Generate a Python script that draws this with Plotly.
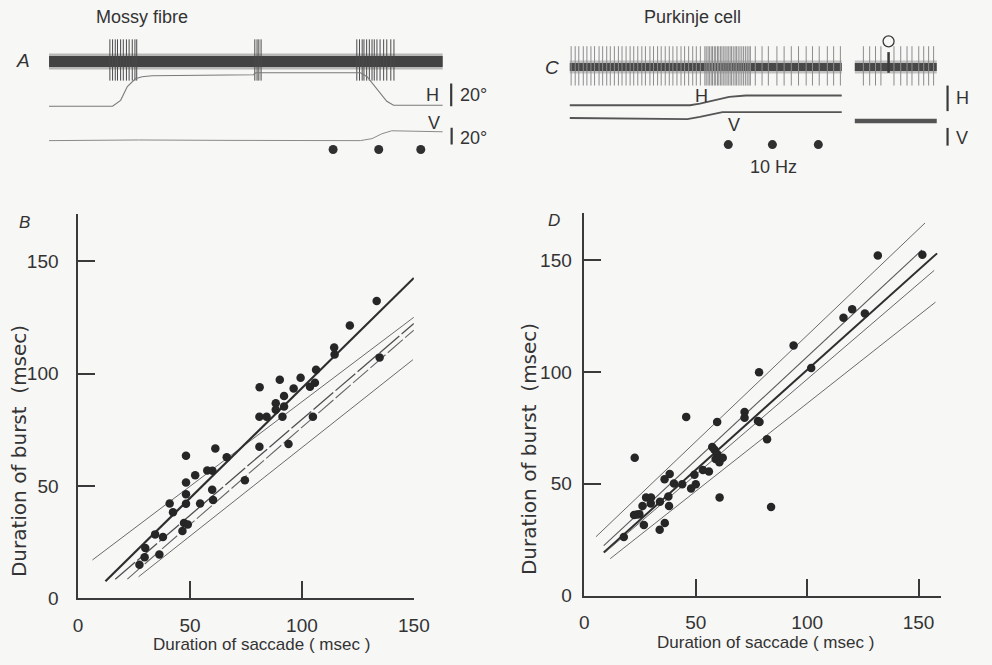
import plotly.graph_objects as go

W, H = 992, 665
FONT = "Liberation Sans"
INK = "#333333"
PAPER_BG = "#f7f7f6"

# ---------------- Panel B: mossy fibre, burst duration vs saccade duration (msec)
B_SACCADE = [27.4, 29.7, 30.0, 34.4, 36.3, 37.9, 40.9, 42.4, 46.6, 48.2, 48.2, 48.2,
             48.2, 47.3, 49.0, 52.3, 54.5, 57.7, 60.0, 59.9, 60.3, 61.3, 66.4, 74.5,
             81.0, 81.0, 81.1, 84.2, 88.3, 88.3, 90.1, 91.3, 92.0, 92.0, 94.0, 96.3,
             99.4, 103.6, 105.8, 104.9, 106.3, 114.4, 114.6, 121.4, 133.4, 134.7]
B_BURST = [14.9, 18.2, 22.3, 28.4, 19.4, 27.2, 42.1, 38.3, 29.9, 63.4, 51.5, 46.3,
           42.0, 33.5, 32.8, 54.7, 42.1, 56.8, 56.7, 48.3, 43.7, 66.6, 62.7, 52.5,
           80.8, 67.4, 93.9, 80.8, 86.8, 83.9, 97.3, 80.8, 90.0, 85.3, 68.6, 93.4,
           98.2, 94.1, 95.9, 80.8, 101.7, 111.6, 108.5, 121.4, 132.3, 107.2]
# fitted / limit lines (start, end)
B_LINE_X = [[6.4, 150.0], [12.2, 150.0], [16.6, 150.0], [22.0, 150.0], [27.0, 149.6]]
B_LINE_Y = [[17.0, 125.1], [7.5, 142.6], [8.4, 122.3], [8.5, 119.4], [9.5, 106.2]]

# ---------------- Panel D: Purkinje cell, burst duration vs saccade duration (msec)
D_SACCADE = [17.7, 22.6, 22.3, 23.6, 24.7, 26.7, 26.1, 27.7, 29.9, 29.8, 33.8, 33.9,
             36.0, 36.1, 37.7, 38.0, 38.3, 40.2, 43.9, 45.7, 47.9, 49.4, 50.0, 53.2,
             55.9, 57.4, 58.4, 58.9, 59.6, 60.4, 60.6, 62.1, 59.6, 60.7, 71.9, 71.9,
             77.9, 78.6, 78.4, 82.0, 83.8, 93.9, 101.8, 116.3, 120.2, 125.9, 131.7, 151.7]
D_BURST = [26.2, 61.6, 36.0, 36.3, 36.4, 31.6, 40.0, 43.8, 43.8, 41.2, 29.4, 42.0,
           52.0, 32.5, 44.3, 40.1, 54.4, 50.1, 49.8, 79.9, 47.9, 54.0, 49.8, 56.1,
           55.5, 66.4, 65.2, 61.1, 63.3, 60.8, 59.6, 61.6, 77.6, 43.8, 82.1, 79.5,
           78.1, 77.6, 99.9, 69.9, 39.6, 111.8, 101.8, 124.2, 128.0, 126.1, 152.0, 152.4]
D_LINE_X = [[5.2, 152.9], [8.7, 151.5], [8.7, 158.3], [9.5, 157.0], [11.6, 157.6]]
D_LINE_Y = [[26.3, 166.6], [22.3, 154.5], [19.3, 153.0], [19.5, 145.4], [16.5, 131.2]]

TICKS = [0, 50, 100, 150]

# ---------------- Panel A: mossy fibre record (time in ms)
A_DURATION = 880
A_SPIKES = [136, 142, 148, 153, 160, 166, 173, 179, 186, 192, 196,
            460, 465, 469, 474,
            688, 694, 700, 704, 710, 716, 722, 727, 733, 740, 748, 755, 764, 771]
A_H_T = [0, 142, 160, 175, 193, 208, 230, 457, 462, 696, 711, 733, 755, 770, 880]
A_H_DEG = [0, 0, 5.2, 17.4, 24.3, 26.1, 27.0, 27.8, 29.6, 29.6, 26.1, 15.7, 4.3, 0.9, 0.9]
A_V_T = [0, 120, 200, 400, 696, 722, 744, 766, 880]
A_V_DEG = [0, 0.4, 0.8, 0.3, 0, 2.4, 8.2, 11.8, 10.6]
A_MARKS = [635, 737, 831]          # 10 Hz time marks
A_SCALE_DEG = 20

# ---------------- Panel C: Purkinje cell record (time in ms)
C_DURATION = 604
C_SIMPLE = [3, 12, 20, 30, 38, 47, 55, 65, 73, 82, 90, 99, 108, 116, 125, 134, 142,
            151, 160, 168, 178, 186, 195, 203, 212, 221, 229, 238, 247, 255, 264,
            273, 281, 290,
            300, 303, 307, 310, 314, 317, 321, 324, 328, 331, 335, 338, 342, 345,
            349, 352, 356, 359, 363, 367, 370, 374, 378, 382, 386, 390, 394, 398,
            401, 412, 427, 441, 460, 476, 492, 508, 525, 539, 554, 572, 586, 601]
C_H_T = [0, 267, 289, 311, 333, 354, 391, 604]
C_H_DEG = [0, 0, 0.6, 1.5, 2.5, 3.3, 3.8, 3.8]
C_V_T = [0, 261, 289, 315, 339, 604]
C_V_DEG = [0, -0.6, 0.6, 2.2, 3.3, 3.3]
C_MARKS = [352, 450, 552]
# inset record with a complex spike
C2_START, C2_END = 633, 815
C2_SIMPLE = [652, 666, 679, 691, 720, 735, 749, 760, 775, 786, 797, 808]
C2_COMPLEX = 708
C2_EYE_DEG = -1.7
C_SCALE_DEG = 10


def px_x(p):
    return p / W


def px_y(p):
    return 1 - p / H


def spikes(times, lo, hi):
    xs, ys = [], []
    for t in times:
        xs += [t, t, None]
        ys += [lo, hi, None]
    return xs, ys


fig = go.Figure()

# ---------- scatter panels ----------
line_styles = [
    dict(color="#6a6a6a", width=1.0),
    dict(color="#2e2e2e", width=2.2),
    dict(color="#505050", width=1.3, dash="26px,3px"),
    dict(color="#666666", width=1.1, dash="20px,3px"),
    dict(color="#6a6a6a", width=1.0),
]
for lx, ly, st in zip(B_LINE_X, B_LINE_Y, line_styles):
    fig.add_trace(go.Scatter(x=lx, y=ly, mode="lines", line=st, xaxis="x", yaxis="y",
                             hoverinfo="skip"))
fig.add_trace(go.Scatter(x=B_SACCADE, y=B_BURST, mode="markers", xaxis="x", yaxis="y",
                         marker=dict(size=8.5, color="#262626")))

d_styles = [
    dict(color="#6a6a6a", width=1.0),
    dict(color="#5a5a5a", width=1.1),
    dict(color="#2e2e2e", width=2.0),
    dict(color="#666666", width=1.0),
    dict(color="#6a6a6a", width=1.0),
]
for lx, ly, st in zip(D_LINE_X, D_LINE_Y, d_styles):
    fig.add_trace(go.Scatter(x=lx, y=ly, mode="lines", line=st, xaxis="x2", yaxis="y2",
                             hoverinfo="skip"))
fig.add_trace(go.Scatter(x=D_SACCADE, y=D_BURST, mode="markers", xaxis="x2", yaxis="y2",
                         marker=dict(size=8.5, color="#262626")))

# ---------- record A ----------
fig.add_trace(go.Scatter(x=[0, A_DURATION], y=[0, 0], mode="lines", xaxis="x3", yaxis="y3",
                         line=dict(color="rgba(70,70,70,0.35)", width=16)))
fig.add_trace(go.Scatter(x=[0, A_DURATION], y=[0, 0], mode="lines", xaxis="x3", yaxis="y3",
                         line=dict(color="#434343", width=11)))
sx, sy = spikes(A_SPIKES, -19.5, 22.5)
fig.add_trace(go.Scatter(x=sx, y=sy, mode="lines", xaxis="x3", yaxis="y3",
                         line=dict(color="#4a4a4a", width=1)))
fig.add_trace(go.Scatter(x=A_H_T, y=A_H_DEG, mode="lines", xaxis="x3", yaxis="y4",
                         line=dict(color="#7a7a7a", width=1.1)))
fig.add_trace(go.Scatter(x=A_V_T, y=A_V_DEG, mode="lines", xaxis="x3", yaxis="y5",
                         line=dict(color="#8a8a8a", width=1.0)))
fig.add_trace(go.Scatter(x=A_MARKS, y=[-89.5] * len(A_MARKS), mode="markers",
                         xaxis="x3", yaxis="y3", marker=dict(size=9, color="#303030")))
# 20 deg calibration bars
fig.add_trace(go.Scatter(x=[899, 899], y=[0, A_SCALE_DEG], mode="lines", xaxis="x3", yaxis="y4",
                         line=dict(color="#3a3a3a", width=2.2)))
fig.add_trace(go.Scatter(x=[900, 900], y=[-4.7, A_SCALE_DEG - 4.7], mode="lines",
                         xaxis="x3", yaxis="y5", line=dict(color="#3a3a3a", width=2.2)))

# ---------- record C ----------
band_x = [0, C_DURATION, None, C2_START, C2_END]
band_y = [0, 0, None, 0, 0]
fig.add_trace(go.Scatter(x=band_x, y=band_y, mode="lines", xaxis="x4", yaxis="y6",
                         line=dict(color="rgba(70,70,70,0.3)", width=13)))
fig.add_trace(go.Scatter(x=band_x, y=band_y, mode="lines", xaxis="x4", yaxis="y6",
                         line=dict(color="#484848", width=8)))
sx, sy = spikes(C_SIMPLE + C2_SIMPLE, -19, 21)
fig.add_trace(go.Scatter(x=sx, y=sy, mode="lines", xaxis="x4", yaxis="y6",
                         line=dict(color="#8c8c8c", width=1)))
fig.add_trace(go.Scatter(x=[C2_COMPLEX, C2_COMPLEX], y=[-6, 15], mode="lines",
                         xaxis="x4", yaxis="y6", line=dict(color="#3a3a3a", width=2.5)))
fig.add_trace(go.Scatter(x=[C2_COMPLEX], y=[26], mode="markers", xaxis="x4", yaxis="y6",
                         marker=dict(size=11, symbol="circle-open", color="#3a3a3a",
                                     line=dict(width=1.3))))
fig.add_trace(go.Scatter(x=C_H_T, y=C_H_DEG, mode="lines", xaxis="x4", yaxis="y7",
                         line=dict(color="#555555", width=1.8)))
fig.add_trace(go.Scatter(x=C_V_T, y=C_V_DEG, mode="lines", xaxis="x4", yaxis="y8",
                         line=dict(color="#555555", width=1.8)))
fig.add_trace(go.Scatter(x=[C2_START, C2_END], y=[C2_EYE_DEG] * 2, mode="lines",
                         xaxis="x4", yaxis="y8", line=dict(color="#555555", width=4.5)))
fig.add_trace(go.Scatter(x=C_MARKS, y=[-79] * len(C_MARKS), mode="markers",
                         xaxis="x4", yaxis="y6", marker=dict(size=9, color="#303030")))
fig.add_trace(go.Scatter(x=[839, 839], y=[-2.3, C_SCALE_DEG - 2.3], mode="lines",
                         xaxis="x4", yaxis="y7", line=dict(color="#3a3a3a", width=2.2)))
fig.add_trace(go.Scatter(x=[839, 839], y=[-15.6, C_SCALE_DEG - 15.6], mode="lines",
                         xaxis="x4", yaxis="y8", line=dict(color="#3a3a3a", width=2.2)))

# ---------- axes ----------
axis_common = dict(showgrid=False, zeroline=False, showline=True, linecolor="#3a3a3a",
                   linewidth=1.5, ticks="inside", ticklen=17, tickwidth=1.5,
                   tickcolor="#3a3a3a", tickvals=TICKS,
                   tickfont=dict(family=FONT, size=19, color=INK))

hidden = dict(visible=False, showgrid=False, zeroline=False, fixedrange=True)
top_dom = [px_y(180), 1.0]


def time_range(p0, ppms, a, b):
    return [(a - p0) / ppms, (b - p0) / ppms]


def val_range(pzero, ppu):
    return [(pzero - 180) / ppu, pzero / ppu]


layout = dict(
    width=W, height=H, margin=dict(l=0, r=0, t=0, b=0),
    paper_bgcolor=PAPER_BG, plot_bgcolor="rgba(0,0,0,0)", showlegend=False,
    xaxis=dict(axis_common, range=[0, 150], domain=[px_x(74.7), px_x(417.7)],
               anchor="y", ticklabelstandoff=9),
    yaxis=dict(axis_common, range=[0, 171], domain=[px_y(608.2), px_y(217.8)],
               anchor="x", ticklabelstandoff=14),
    xaxis2=dict(axis_common, range=[0, 160], domain=[px_x(591.9), px_x(956.1)],
                anchor="y2", ticklabelstandoff=9),
    yaxis2=dict(axis_common, range=[0, 171], domain=[px_y(605.6), px_y(216.7)],
                anchor="x2", ticklabelstandoff=7),
    xaxis3=dict(hidden, domain=[0, 0.5], range=time_range(45, 0.457, 0, 496), anchor="y3"),
    yaxis3=dict(hidden, domain=top_dom, range=val_range(62.5, 1.0), anchor="x3"),
    yaxis4=dict(hidden, overlaying="y3", range=val_range(108, 1.15), anchor="x3"),
    yaxis5=dict(hidden, overlaying="y3", range=val_range(143, 0.85), anchor="x3"),
    xaxis4=dict(hidden, domain=[0.5, 1], range=time_range(577, 0.46, 496, 992), anchor="y6"),
    yaxis6=dict(hidden, domain=top_dom, range=val_range(68, 1.0), anchor="x4"),
    yaxis7=dict(hidden, overlaying="y6", range=val_range(107, 2.6), anchor="x4"),
    yaxis8=dict(hidden, overlaying="y6", range=val_range(120, 1.8), anchor="x4"),
)
fig.update_layout(**layout)


def label(text, x, y, size=18, italic=False, angle=0, family=FONT, xanchor="center"):
    fig.add_annotation(text=f"<i>{text}</i>" if italic else text, x=px_x(x), y=px_y(y),
                       xref="paper", yref="paper", showarrow=False, textangle=angle,
                       xanchor=xanchor, yanchor="middle",
                       font=dict(family=family, size=size, color=INK))


label("Mossy fibre", 140, 17)
label("Purkinje cell", 702, 17)
label("A", 18, 62, size=19, italic=True)
label("C", 559, 69, size=19, italic=True)
label("B", 20, 226, size=17, italic=True)
label("D", 561, 224, size=17, italic=True)
label("H", 437, 97)
label("V", 438, 125)
label("20°", 463, 97, xanchor="left")
label("20°", 463, 140, xanchor="left")
label("H", 712, 98)
label("V", 745, 127)
label("10 Hz", 785, 170)
label("H", 978, 100)
label("V", 978, 140)

XT = "Duration of saccade ( msec )"
YT = "Duration of burst  (msec)"
label(XT, 262, 655, size=17)
label(XT, 777, 653, size=17)
label(YT, 15, 459, size=20, angle=-90, family="DejaVu Sans")
label(YT, 536, 457, size=20, angle=-90, family="DejaVu Sans")

fig.write_html("out.html")
